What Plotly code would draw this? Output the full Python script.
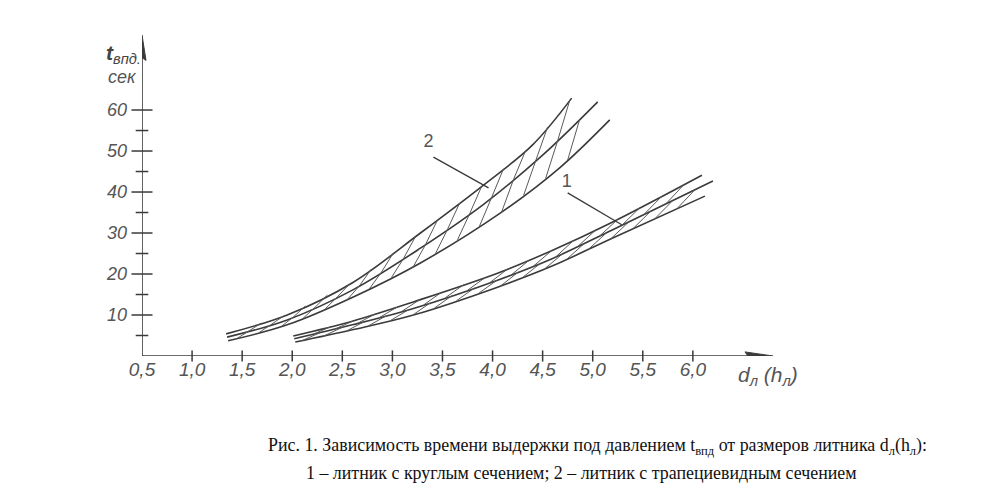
import numpy as np
import plotly.graph_objects as go

# ---- data ----
# group 2 (trapezoidal gate) : three boundary curves
g2_top_x = [1.34, 1.95, 2.61, 3.28, 3.91, 4.40, 4.79]
g2_top_y = [5.4, 10.0, 18.0, 30.0, 41.7, 51.5, 62.9]
g2_mid_x = [1.35, 1.95, 2.61, 3.28, 3.91, 4.50, 5.05]
g2_mid_y = [4.6, 8.8, 16.2, 26.3, 37.0, 49.0, 62.0]
g2_bot_x = [1.36, 1.95, 2.61, 3.28, 4.08, 4.67, 5.17]
g2_bot_y = [3.7, 7.6, 14.4, 22.7, 34.9, 45.9, 57.6]
# group 1 (round gate)
g1_top_x = [2.01, 2.60, 3.21, 4.05, 4.60, 5.20, 6.09]
g1_top_y = [4.9, 8.5, 13.2, 20.2, 25.8, 32.7, 44.1]
g1_mid_x = [2.02, 2.60, 3.21, 4.05, 4.60, 5.20, 6.20]
g1_mid_y = [4.2, 7.6, 11.6, 18.5, 23.8, 30.8, 42.7]
g1_bot_x = [2.03, 2.60, 3.21, 4.05, 4.60, 5.20, 6.12]
g1_bot_y = [3.4, 6.4, 10.0, 16.8, 22.0, 28.8, 39.0]

# leader lines / labels
lab_text = ["2", "1"]
lab_x = [3.36, 4.74]
lab_y = [52.0, 42.3]
lead_x0 = [3.41, 4.75]
lead_y0 = [48.5, 39.8]
lead_x1 = [3.96, 5.29]
lead_y1 = [41.0, 32.0]

# axis ticks
x_tick_vals = [0.5, 1.0, 1.5, 2.0, 2.5, 3.0, 3.5, 4.0, 4.5, 5.0, 5.5, 6.0]
x_tick_text = ["0,5", "1,0", "1,5", "2,0", "2,5", "3,0", "3,5", "4,0", "4,5", "5,0", "5,5", "6,0"]
y_tick_vals = [10, 20, 30, 40, 50, 60]
y_tick_text = ["10", "20", "30", "40", "50", "60"]
y_minor_vals = [5, 15, 25, 35, 45, 55]

X0, X1 = 0.5, 6.8
Y0, Y1 = 0.0, 78.3

CURVE = "#3a3a3a"
HATCH = "#5a5a5a"
GREY = "#555555"

OFF = 8  # page body margin of the browser
W, H = 984 - OFF, 502 - OFF

fig = go.Figure()


def curve(x, y):
    fig.add_trace(go.Scatter(x=x, y=y, mode="lines", line=dict(color=CURVE, width=1.6, shape="spline"),
                             hoverinfo="skip", showlegend=False))


def hatch(lx, ly, ux, uy, start, stop, step, dx):
    hx, hy = [], []
    for x in np.arange(start, stop, step):
        x2 = x + dx
        if x < max(lx[0], ux[0]) or x2 > min(lx[-1], ux[-1]):
            continue
        hx += [x, x2, None]
        hy += [float(np.interp(x, lx, ly)), float(np.interp(x2, ux, uy)), None]
    fig.add_trace(go.Scatter(x=hx, y=hy, mode="lines", line=dict(color=HATCH, width=1),
                             hoverinfo="skip", showlegend=False))


for cx, cy in [(g2_top_x, g2_top_y), (g2_mid_x, g2_mid_y), (g2_bot_x, g2_bot_y),
               (g1_top_x, g1_top_y), (g1_mid_x, g1_mid_y), (g1_bot_x, g1_bot_y)]:
    curve(cx, cy)

hatch(g2_bot_x, g2_bot_y, g2_mid_x, g2_mid_y, 1.45, 5.2, 0.22, 0.12)
hatch(g2_mid_x, g2_mid_y, g2_top_x, g2_top_y, 1.57, 5.0, 0.22, 0.12)
hatch(g1_bot_x, g1_bot_y, g1_mid_x, g1_mid_y, 2.10, 6.2, 0.22, 0.18)
hatch(g1_mid_x, g1_mid_y, g1_top_x, g1_top_y, 2.21, 6.2, 0.22, 0.18)

# leader lines
lx, ly = [], []
for a, b, c, d in zip(lead_x0, lead_y0, lead_x1, lead_y1):
    lx += [a, c, None]
    ly += [b, d, None]
fig.add_trace(go.Scatter(x=lx, y=ly, mode="lines", line=dict(color=CURVE, width=1.3),
                         hoverinfo="skip", showlegend=False))
fig.add_trace(go.Scatter(x=lab_x, y=lab_y, mode="text", text=lab_text,
                         textfont=dict(family="Liberation Sans", size=18, color=GREY),
                         hoverinfo="skip", showlegend=False))

# tick crosses
fig.add_trace(go.Scatter(x=[0.5] * len(y_tick_vals), y=y_tick_vals, mode="markers",
                         marker=dict(symbol="line-ew", size=15, line=dict(color=CURVE, width=1.5)),
                         cliponaxis=False, hoverinfo="skip", showlegend=False))
fig.add_trace(go.Scatter(x=[0.5] * len(y_minor_vals), y=y_minor_vals, mode="markers",
                         marker=dict(symbol="line-ew", size=9, line=dict(color=CURVE, width=1.5)),
                         cliponaxis=False, hoverinfo="skip", showlegend=False))
fig.add_trace(go.Scatter(x=x_tick_vals[1:], y=[0] * (len(x_tick_vals) - 1), mode="markers",
                         marker=dict(symbol="line-ns", size=8, line=dict(color=CURVE, width=1.5)),
                         cliponaxis=False, hoverinfo="skip", showlegend=False))

# axis lines with arrow heads
shapes = [
    dict(type="line", xref="x", yref="y", x0=X0, y0=Y0, x1=X1 - 0.2, y1=Y0, line=dict(color=CURVE, width=1.6)),
    dict(type="line", xref="x", yref="y", x0=X0, y0=Y0, x1=X0, y1=Y1 - 4, line=dict(color=CURVE, width=1.6)),
    dict(type="path", xref="x", yref="y",
         path=f"M {X1-0.28} {Y0-1.0} L {X1} {Y0} L {X1-0.28} {Y0+1.0} L {X1-0.25} {Y0} Z",
         fillcolor=CURVE, line=dict(color=CURVE, width=1)),
    dict(type="path", xref="x", yref="y",
         path=f"M {X0-0.04} {Y1-6.2} L {X0} {Y1} L {X0+0.04} {Y1-6.2} L {X0} {Y1-5.5} Z",
         fillcolor=CURVE, line=dict(color=CURVE, width=1)),
]

# reference pixel geometry of the plot area
L_PX, R_PX, T_PX, B_PX = 142, 773, 35, 356
PW = float(R_PX - L_PX)
PH = float(B_PX - T_PX)


def px_x(px):
    return (px - L_PX) / PW


def px_y(py):
    return (B_PX - py) / PH


annotations = [
    dict(xref="paper", yref="paper", x=px_x(104), y=px_y(54), xanchor="left", yanchor="middle",
         text="<b><i>t</i></b><sub><i>впд.</i></sub>", showarrow=False,
         font=dict(family="Liberation Sans", size=21, color="#444444")),
    dict(xref="paper", yref="paper", x=px_x(106), y=px_y(77), xanchor="left", yanchor="middle",
         text="<i>сек</i>", showarrow=False,
         font=dict(family="Liberation Sans", size=18, color=GREY)),
    dict(xref="paper", yref="paper", x=px_x(736), y=px_y(376), xanchor="left", yanchor="middle",
         text="<i>d<sub>л</sub> (h<sub>л</sub>)</i>", showarrow=False,
         font=dict(family="Liberation Sans", size=21, color=GREY)),
    dict(xref="paper", yref="paper", x=px_x(266), y=px_y(446), xanchor="left", yanchor="middle",
         text="Рис. 1. Зависимость времени выдержки под давлением t<sub>впд</sub> от размеров литника d<sub>л</sub>(h<sub>л</sub>):",
         showarrow=False, font=dict(family="Liberation Serif", size=17.9, color="#111111")),
    dict(xref="paper", yref="paper", x=px_x(304), y=px_y(473), xanchor="left", yanchor="middle",
         text="1 – литник с круглым сечением; 2 – литник с трапециевидным сечением",
         showarrow=False, font=dict(family="Liberation Serif", size=17.9, color="#111111")),
]

fig.update_layout(
    width=W, height=H,
    margin=dict(l=L_PX - OFF, r=984 - R_PX, t=T_PX - OFF, b=502 - B_PX),
    paper_bgcolor="white", plot_bgcolor="white",
    shapes=shapes, annotations=annotations,
    xaxis=dict(range=[X0, X1], showgrid=False, zeroline=False, showline=False,
               tickmode="array", tickvals=x_tick_vals, ticktext=x_tick_text, ticks="",
               ticklabelstandoff=0,
               tickfont=dict(family="Liberation Sans", size=19, color=GREY, style="italic")),
    yaxis=dict(range=[Y0, Y1], showgrid=False, zeroline=False, showline=False,
               tickmode="array", tickvals=y_tick_vals, ticktext=y_tick_text, ticks="",
               ticklabelstandoff=14,
               tickfont=dict(family="Liberation Sans", size=18, color=GREY, style="italic")),
)

fig.write_html("out.html")
